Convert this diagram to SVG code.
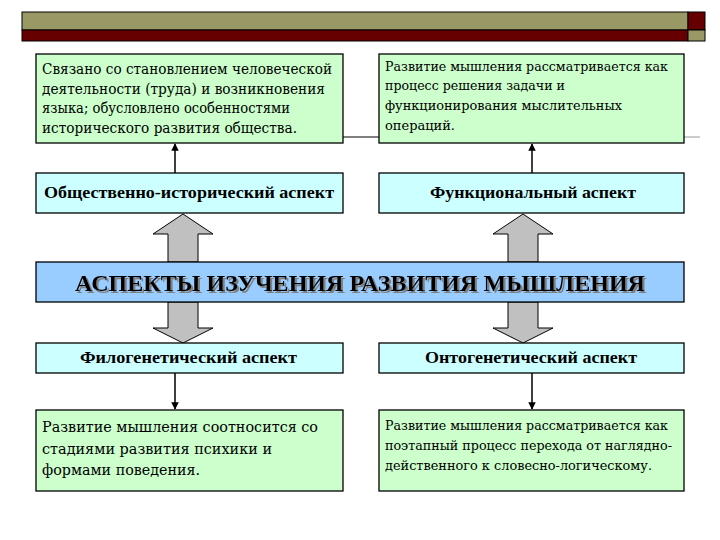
<svg xmlns="http://www.w3.org/2000/svg" width="720" height="540" viewBox="0 0 720 540">
<defs>
<style>
.green{fill:#ccffcc;stroke:#000;stroke-width:1.3}
.cyan{fill:#ccffff;stroke:#000;stroke-width:1.3}
.thin{stroke:#000;stroke-width:1.5;fill:none}
.big{fill:#c0c0c0;stroke:#000;stroke-width:1}
.serif{font-family:"Liberation Serif","Times New Roman","DejaVu Serif",serif}
.serif2{font-family:"DejaVu Serif","Liberation Serif",serif}
</style>
<marker id="ah" viewBox="0 0 10 10" refX="9" refY="5" markerWidth="5" markerHeight="5" orient="auto">
<path d="M0,0 L10,5 L0,10 z" fill="#000"/>
</marker>
<filter id="shadow" x="-5%" y="-20%" width="110%" height="150%">
<feOffset in="SourceAlpha" dx="2" dy="2" result="o"/>
<feFlood flood-color="#7f7f7f"/>
<feComposite in2="o" operator="in" result="s"/>
<feMerge><feMergeNode in="s"/><feMergeNode in="SourceGraphic"/></feMerge>
</filter>
</defs>
<rect width="720" height="540" fill="#fff"/>
<g id="header">
<rect x="22" y="12" width="666" height="18" fill="#999966" stroke="#000" stroke-width="1"/>
<rect x="22" y="30" width="666" height="11" fill="#660000" stroke="#000" stroke-width="1"/>
<rect x="688" y="12" width="17" height="18" fill="#660000" stroke="#000" stroke-width="1"/>
<rect x="688" y="30" width="17" height="11" fill="#999966" stroke="#000" stroke-width="1"/>
</g>
<g id="connectors">
<line x1="343" y1="137" x2="379" y2="137" stroke="#000" stroke-width="1"/>
<line x1="684" y1="137" x2="700" y2="137" stroke="#999" stroke-width="1"/>
<line class="thin" x1="175" y1="173" x2="175" y2="144" marker-end="url(#ah)"/>
<line class="thin" x1="532" y1="173" x2="532" y2="144" marker-end="url(#ah)"/>
<line class="thin" x1="175" y1="373" x2="175" y2="409" marker-end="url(#ah)"/>
<line class="thin" x1="532" y1="373" x2="532" y2="409" marker-end="url(#ah)"/>
<path class="big" d="M183,214 L213,234 L198,234 L198,262 L168,262 L168,234 L153,234 Z"/>
<path class="big" d="M523,214 L553,234 L538,234 L538,262 L508,262 L508,234 L493,234 Z"/>
<path class="big" d="M168,302 L198,302 L198,328 L213,328 L183,343 L153,328 L168,328 Z"/>
<path class="big" d="M508,302 L538,302 L538,328 L553,328 L523,343 L493,328 L508,328 Z"/>
</g>
<g fill="#000">
<g id="node-social-desc" class="serif2" font-size="15">
<rect class="green" x="36" y="54" width="307" height="89"/>
<text x="42" y="74" textLength="290" lengthAdjust="spacingAndGlyphs">Связано со становлением человеческой</text>
<text x="42" y="94" textLength="283" lengthAdjust="spacingAndGlyphs">деятельности (труда) и возникновения</text>
<text x="42" y="113" textLength="248" lengthAdjust="spacingAndGlyphs">языка; обусловлено особенностями</text>
<text x="42" y="133" textLength="255" lengthAdjust="spacingAndGlyphs">исторического развития общества.</text>
</g>
<g id="node-func-desc" class="serif2" font-size="13">
<rect class="green" x="379" y="54" width="305" height="89"/>
<text x="385" y="71" textLength="283" lengthAdjust="spacingAndGlyphs">Развитие мышления рассматривается как</text>
<text x="385" y="90" textLength="180" lengthAdjust="spacingAndGlyphs">процесс решения задачи и</text>
<text x="385" y="110" textLength="237" lengthAdjust="spacingAndGlyphs">функционирования мыслительных</text>
<text x="385" y="130" textLength="70" lengthAdjust="spacingAndGlyphs">операций.</text>
</g>
<g id="node-social" class="serif" font-size="16" font-weight="bold">
<rect class="cyan" x="36" y="173" width="307" height="40"/>
<text x="44" y="198" textLength="290" lengthAdjust="spacingAndGlyphs">Общественно-исторический аспект</text>
</g>
<g id="node-func" class="serif" font-size="16" font-weight="bold">
<rect class="cyan" x="379" y="173" width="305" height="40"/>
<text x="430" y="198" textLength="206" lengthAdjust="spacingAndGlyphs">Функциональный аспект</text>
</g>
<g id="node-main" class="serif">
<rect x="36" y="262" width="648" height="40" fill="#99ccff" stroke="#000" stroke-width="1.3"/>
<text x="75" y="291" font-size="24" font-weight="bold" textLength="570" lengthAdjust="spacingAndGlyphs" filter="url(#shadow)">АСПЕКТЫ ИЗУЧЕНИЯ РАЗВИТИЯ МЫШЛЕНИЯ</text>
</g>
<g id="node-phylo" class="serif" font-size="16" font-weight="bold">
<rect class="cyan" x="36" y="343" width="307" height="30"/>
<text x="80" y="363" textLength="217" lengthAdjust="spacingAndGlyphs">Филогенетический аспект</text>
</g>
<g id="node-onto" class="serif" font-size="16" font-weight="bold">
<rect class="cyan" x="379" y="343" width="305" height="30"/>
<text x="425" y="363" textLength="212" lengthAdjust="spacingAndGlyphs">Онтогенетический аспект</text>
</g>
<g id="node-phylo-desc" class="serif2" font-size="15">
<rect class="green" x="36" y="410" width="307" height="81"/>
<text x="42" y="432" textLength="276" lengthAdjust="spacingAndGlyphs">Развитие мышления соотносится со</text>
<text x="42" y="454" textLength="230" lengthAdjust="spacingAndGlyphs">стадиями развития психики и</text>
<text x="42" y="475" textLength="158" lengthAdjust="spacingAndGlyphs">формами поведения.</text>
</g>
<g id="node-onto-desc" class="serif2" font-size="13">
<rect class="green" x="379" y="410" width="305" height="81"/>
<text x="385" y="430" textLength="283" lengthAdjust="spacingAndGlyphs">Развитие мышления рассматривается как</text>
<text x="385" y="450" textLength="287" lengthAdjust="spacingAndGlyphs">поэтапный процесс перехода от наглядно-</text>
<text x="385" y="470" textLength="267" lengthAdjust="spacingAndGlyphs">действенного к словесно-логическому.</text>
</g>
</g>
</svg>
